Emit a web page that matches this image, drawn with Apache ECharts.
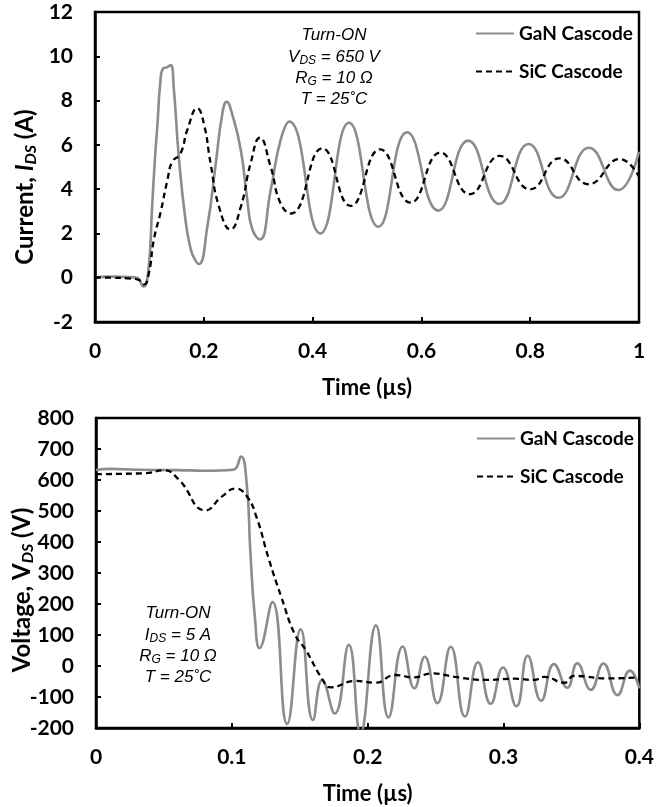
<!DOCTYPE html>
<html><head><meta charset="utf-8">
<script src="https://cdn.jsdelivr.net/npm/echarts@6/dist/echarts.min.js"></script>
<style>html,body{margin:0;padding:0;background:#fff}#c{width:657px;height:807px}</style>
</head><body><div id="c"></div><script>
// ---- Data ----
// Top panel: turn-on current I_DS (A) vs time (µs)
const ganCurrent = [[0,0.02],[0.03,0.05],[0.06,0.03],[0.077,0.0],[0.089,-0.4],[0.098,0.3],[0.105,3.2],[0.110,5.3],[0.115,7.0],[0.120,8.8],[0.125,9.45],[0.132,9.5],[0.139,9.6],[0.145,8.5],[0.154,5.47],[0.167,2.47],[0.176,1.29],[0.182,0.9],[0.191,0.62],[0.2065,2.3],[0.222,5.16],[0.234,7.4],[0.242,7.95],[0.252,7.4],[0.268,5.77],[0.28,3.5],[0.289,2.2],[0.303,1.73],[0.323,3.96],[0.341,6.2],[0.357,7.05],[0.414,2.0],[0.467,7.0],[0.521,2.3],[0.574,6.57],[0.631,3.03],[0.686,6.19],[0.743,3.33],[0.797,6.04],[0.852,3.61],[0.908,5.87],[0.962,3.96],[1.0,5.69]];
const sicCurrent = [[0,0.02],[0.03,0.0],[0.06,-0.03],[0.08,-0.1],[0.09,-0.3],[0.099,0.2],[0.108,1.7],[0.121,3.0],[0.133,4.4],[0.142,5.24],[0.157,5.6],[0.17,6.7],[0.188,7.65],[0.2,6.97],[0.2125,5.16],[0.228,3.2],[0.249,2.18],[0.268,3.2],[0.286,5.16],[0.303,6.32],[0.323,5.0],[0.341,3.36],[0.36,2.9],[0.418,5.84],[0.47,3.24],[0.524,5.8],[0.58,3.39],[0.635,5.65],[0.689,3.77],[0.744,5.5],[0.8,3.99],[0.854,5.39],[0.907,4.22],[0.965,5.36],[1.0,4.56]];
// Bottom panel: turn-on voltage V_DS (V) vs time (µs)
const ganVoltage = [[0,632],[0.01,636],[0.03,633],[0.06,632],[0.08,630],[0.101,633],[0.1067,676],[0.111,585],[0.1136,371],[0.117,155],[0.1204,58],[0.1299,206],[0.1407,-187],[0.1507,118],[0.1597,-174],[0.1665,-45],[0.1758,-153],[0.1861,68],[0.1947,-215],[0.2061,131],[0.2154,-166],[0.2258,63],[0.2344,-72],[0.242,30],[0.2513,-120],[0.2612,62],[0.2716,-163],[0.2813,12],[0.2905,-122],[0.2996,-5],[0.3095,-130],[0.3178,33],[0.3277,-112],[0.3372,6],[0.347,-70],[0.3543,9],[0.3643,-77],[0.3736,8],[0.3839,-94],[0.393,-15],[0.4,-72]];
const sicVoltage = [[0,619],[0.0366,622],[0.05,631],[0.061,601],[0.0806,502],[0.0928,547],[0.1026,572],[0.1111,547],[0.1184,477],[0.127,348],[0.1367,219],[0.1465,101],[0.1544,52],[0.1665,-42],[0.1727,-69],[0.191,-48],[0.2056,-54],[0.2203,-29],[0.2337,-37],[0.247,-24],[0.2642,-35],[0.2862,-45],[0.3081,-41],[0.3227,-45],[0.33,-35],[0.3447,-54],[0.352,-32],[0.3766,-40],[0.4,-37]];
const seriesNames = ['GaN Cascode','SiC Cascode'];
const topAxis = {xMin:0, xMax:1, xStep:0.2, yMin:-2, yMax:12, yStep:2};
const botAxis = {xMin:0, xMax:0.4, xStep:0.1, yMin:-200, yMax:800, yStep:100};

// ---- Chart ----
const FONT = 'Lato';
const chart = echarts.init(document.getElementById('c'), null, {renderer:'canvas'});
const labelStyle = {color:'#000', fontSize:21, fontWeight:'bold', fontFamily:FONT};
function xAx(grid, a){
  return {type:'value', gridIndex:grid, min:a.xMin, max:a.xMax, interval:a.xStep,
    axisLine:{show:true, onZero:false, lineStyle:{color:'#000', width:2.5}},
    axisTick:{show:true, inside:true, length:5, lineStyle:{color:'#000', width:2}},
    splitLine:{show:false}, axisLabel:Object.assign({margin:19}, labelStyle),
    name:'Time (µs)', nameLocation:'middle', nameGap:55,
    nameTextStyle:{color:'#000', fontSize:22, fontWeight:'bold', fontFamily:FONT}};
}
function yAx(grid, a){
  return {type:'value', gridIndex:grid, min:a.yMin, max:a.yMax, interval:a.yStep,
    axisLine:{show:true, onZero:false, lineStyle:{color:'#000', width:2.5}},
    axisTick:{show:true, inside:true, length:5, lineStyle:{color:'#000', width:2}},
    splitLine:{show:false}, axisLabel:Object.assign({margin:22}, labelStyle)};
}
const ganStyle = {color:'#8c8c8c', width:2.6};
const sicStyle = {color:'#000', width:2.3, type:[6,4]};
function ser(name, data, xi, style){
  return {name:name, type:'line', xAxisIndex:xi, yAxisIndex:xi, data:data, smooth:0.5,
    symbol:'none', showSymbol:false, lineStyle:style, itemStyle:{color:style.color}, z: name===seriesNames[1]?3:2};
}
const richA = {
  i:{fontFamily:'Liberation Sans', fontStyle:'italic', fontSize:17, color:'#000', lineHeight:20},
  s:{fontFamily:'Liberation Sans', fontStyle:'italic', fontSize:12, color:'#000', lineHeight:9, verticalAlign:'bottom'}
};
function anno(x, y, text){
  return {type:'text', x:x, y:y, style:{text:text, rich:richA, align:'center', verticalAlign:'middle', font:'italic 17px "Liberation Sans"', fill:'#000'}};
}
const richT = {
  b:{fontFamily:FONT, fontWeight:'bold', fontSize:24, color:'#000', lineHeight:28},
  bi:{fontFamily:FONT, fontWeight:'bold', fontStyle:'italic', fontSize:24, color:'#000', lineHeight:28},
  s:{fontFamily:FONT, fontWeight:'bold', fontStyle:'italic', fontSize:16, color:'#000', lineHeight:12, verticalAlign:'bottom'}
};
function ytitle(x, y, text){
  return {type:'text', x:x, y:y, rotation:Math.PI/2, style:{text:text, rich:richT, align:'center', verticalAlign:'middle', fill:'#000'}};
}
const legendBase = {orient:'vertical', itemWidth:38, itemHeight:14, itemGap:19, data:seriesNames,
  itemStyle:{opacity:0}, selectedMode:false,
  textStyle:{color:'#000', fontSize:19, fontWeight:'bold', fontFamily:FONT}};

chart.setOption({
  animation:false,
  backgroundColor:'#fff',
  grid:[
    {left:95, top:12, width:544, height:310, show:true, borderColor:'#000', borderWidth:2.5},
    {left:96, top:418, width:546, height:310, show:true, borderColor:'#000', borderWidth:2.5}
  ],
  xAxis:[xAx(0, topAxis), xAx(1, botAxis)],
  yAxis:[yAx(0, topAxis), yAx(1, botAxis)],
  legend:[
    Object.assign({left:470, top:19}, legendBase),
    Object.assign({left:471, top:424}, legendBase)
  ],
  series:[
    ser(seriesNames[0], ganCurrent, 0, ganStyle),
    ser(seriesNames[1], sicCurrent, 0, sicStyle),
    ser(seriesNames[0], ganVoltage, 1, ganStyle),
    ser(seriesNames[1], sicVoltage, 1, sicStyle)
  ],
  graphic:[
    anno(334, 35, '{i|Turn-ON}'),
    anno(334, 57, '{i|V}{s|DS}{i| = 650 V}'),
    anno(334, 78, '{i|R}{s|G}{i| = 10 Ω}'),
    anno(334, 99, '{i|T = 25˚C}'),
    anno(178, 613, '{i|Turn-ON}'),
    anno(178, 635, '{i|I}{s|DS}{i| = 5 A}'),
    anno(178, 656, '{i|R}{s|G}{i| = 10 Ω}'),
    anno(178, 677, '{i|T = 25˚C}'),
    ytitle(25, 187, '{b|Current, }{bi|I}{s|DS}{b| (A)}'),
    ytitle(22, 590, '{b|Voltage, V}{s|DS}{b| (V)}')
  ]
});
</script></body></html>
